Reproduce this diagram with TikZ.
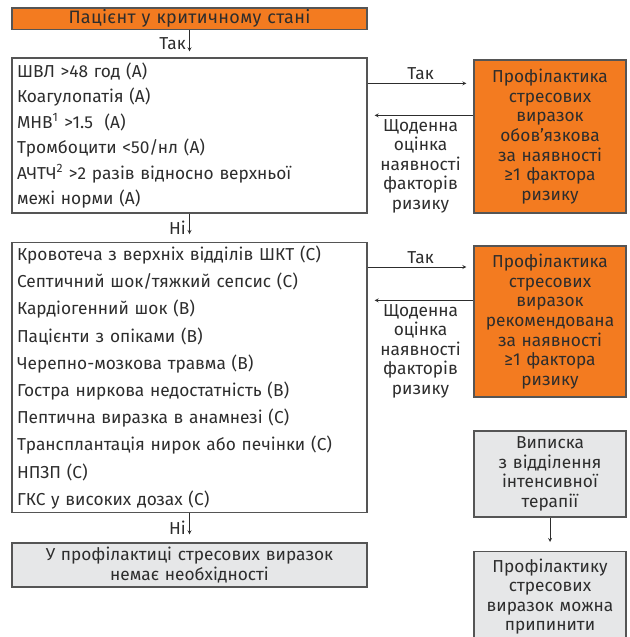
\documentclass[tikz,border=0pt]{standalone}
\usepackage{fontspec}
\setmainfont{Fira Sans}
\usetikzlibrary{calc}
\definecolor{critorange}{RGB}{243,123,32}
\definecolor{boxgray}{RGB}{230,231,232}
\definecolor{linegray}{RGB}{85,85,85}
\definecolor{textgray}{RGB}{45,45,45}

\begin{document}
\begin{tikzpicture}[x=1pt, y=-1pt,
  lbox/.style ={draw=linegray, line width=1.2pt, text=textgray,
                text width=345pt, inner xsep=5pt, align=left,
                font=\fontsize{17.3}{25.4}\selectfont},
  hbox/.style ={draw=linegray, line width=1.2pt, text=textgray,
                text width=345pt, inner xsep=5pt, inner ysep=0pt, align=center,
                font=\fontsize{17.3}{20}\selectfont},
  rbox/.style ={draw=linegray, line width=1.2pt, text=textgray,
                text width=145pt, inner xsep=3.5pt, align=center,
                font=\fontsize{17.3}{19.6}\selectfont},
  arr/.style  ={->, >=stealth, line width=0.8pt, color=textgray},
  lbl/.style  ={font=\fontsize{17.3}{19.6}\selectfont, text=textgray, align=center}
]
  \useasboundingbox (0,0) rectangle (629,637);

  %% ── Left column: decision boxes ─────────────────────────────────────────
  \node[hbox, fill=critorange, minimum height=21.5pt,
        font=\fontsize{18}{20}\selectfont\addfontfeatures{LetterSpace=2}] (crit) at (189.5,18.8)
    {Пацієнт у критичному стані};
  \node[lbox, minimum height=155pt] (risk1) at (189.5,135.5)
    {ШВЛ >48 год (А)\\
     Коагулопатія (А)\\
     МНВ\textsuperscript{1} >1.5~~(А)\\
     Тромбоцити <50/нл (А)\\
     АЧТЧ\textsuperscript{2} >2 разів відносно верхньої\\
     межі норми (А)};
  \node[lbox, minimum height=267pt, font=\fontsize{17.3}{27.2}\selectfont] (risk2) at (189.5,377.5)
    {Кровотеча з верхніх відділів ШКТ (С)\\
     Септичний шок/тяжкий сепсис (С)\\
     Кардіогенний шок (В)\\
     Пацієнти з опіками (В)\\
     Черепно-мозкова травма (В)\\
     Гостра ниркова недостатність (В)\\
     Пептична виразка в анамнезі (С)\\
     Трансплантація нирок або печінки (С)\\
     НПЗП (С)\\
     ГКС у високих дозах (С)};
  \node[hbox, fill=boxgray, minimum height=44pt] (none) at (189.5,565)
    {У профілактиці стресових виразок\\немає необхідності};

  %% ── Right column: prophylaxis boxes ─────────────────────────────────────
  \node[rbox, fill=critorange, minimum height=153pt] (must) at (550,136.5)
    {Профілактика\\стресових\\виразок\\обов’язкова\\за наявності\\≥1 фактора\\ризику};
  \node[rbox, fill=critorange, minimum height=151pt] (rec) at (550,321.5)
    {Профілактика\\стресових\\виразок\\рекомендована\\за наявності\\≥1 фактора\\ризику};
  \node[rbox, fill=boxgray, minimum height=86pt] (disch) at (550,474)
    {Виписка\\з відділення\\інтенсивної\\терапії};
  \node[rbox, fill=boxgray, minimum height=90pt, anchor=north] (stop) at (550,551)
    {Профілактику\\стресових\\виразок можна\\припинити};

  %% ── Downward path (left column) ─────────────────────────────────────────
  \draw[arr, shorten >=6pt] (crit) -- (risk1) node[lbl,left,midway]{Так};
  \draw[arr, shorten >=8pt] (risk1) -- (risk2) node[lbl,left,midway]{Ні};
  \draw[arr, shorten >=8pt] (risk2) -- (none)  node[lbl,left,midway]{Ні};
  \draw[arr, shorten >=9pt] (disch) -- (stop);

  %% ── Risk boxes ↔ prophylaxis boxes ──────────────────────────────────────
  \draw[arr, shorten >=7pt] ([yshift=-26pt]risk1.north east)
    -- ([yshift=-26pt]risk1.north east -| must.west) node[lbl,above,midway]{Так};
  \draw[arr, shorten >=7pt] ([yshift=-56pt]must.north west)
    -- ([yshift=-56pt]must.north west -| risk1.east)
    node[lbl,below,midway]{Щоденна\\оцінка\\наявності\\факторів\\ризику};
  \draw[arr, shorten >=7pt] ([yshift=-25pt]risk2.north east)
    -- ([yshift=-25pt]risk2.north east -| rec.west) node[lbl,above,midway]{Так};
  \draw[arr, shorten >=7pt] ([yshift=-55pt]rec.north west)
    -- ([yshift=-55pt]rec.north west -| risk2.east)
    node[lbl,below,midway]{Щоденна\\оцінка\\наявності\\факторів\\ризику};

\end{tikzpicture}
\end{document}
